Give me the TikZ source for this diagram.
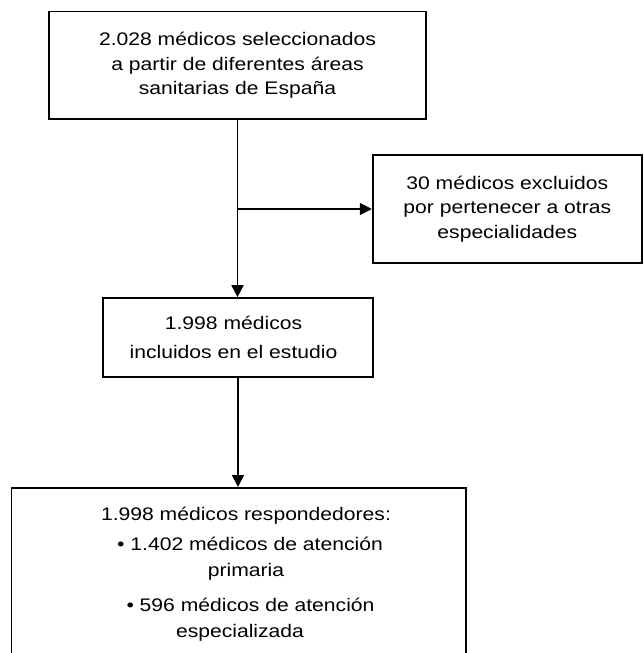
\documentclass[tikz,border=0pt]{standalone}
\usepackage{fontspec}
\usepackage{graphicx}
\setmainfont{Liberation Sans}
\usetikzlibrary{arrows.meta}
\newcommand{\wline}[1]{\scalebox{1.16}[1]{#1}}
\tikzset{
  txt/.style={font=\fontsize{18.2pt}{24.6pt}\selectfont},
  box/.style={draw, line width=1.7pt, align=center, inner sep=0pt, txt},
  conn/.style={line width=1.7pt, -{Triangle[length=12pt,width=12pt]}},
}
\begin{document}
\begin{tikzpicture}[x=1pt,y=-1pt]
\useasboundingbox (0,0) rectangle (643,653);
\node[box, minimum width=377pt, minimum height=107.5pt] (b1) at (237.5,65.25)
  {\wline{2.028 médicos seleccionados}\\\wline{a partir de diferentes áreas}\\\wline{sanitarias de España}};
\node[box, minimum width=269.3pt, minimum height=108pt] (b2) at (507.3,209)
  {\wline{30 médicos excluidos}\\\wline{por pertenecer a otras}\\\wline{especialidades}};
\node[box, minimum width=270pt, minimum height=79pt] (b3) at (238,337.5)
  {\wline{1.998 médicos}\hspace*{9pt}\\[4pt]\wline{incluidos en el estudio}\hspace*{9pt}};
\node[box, minimum width=454.5pt, minimum height=190pt, anchor=north] (b4) at (238.75,487) {};
\node[txt, align=center, inner sep=0pt, anchor=north,
      font=\fontsize{18.2pt}{26pt}\selectfont] (b4t) at (246,506.7)
  {\wline{1.998 médicos respondedores:}\\[3.7pt]
   \hspace*{8pt}\wline{• 1.402 médicos de atención}\\
   \wline{primaria}\hspace*{12pt}\\[9.7pt]
   \hspace*{9pt}\wline{• 596 médicos de atención}\\
   \wline{especializada}\hspace*{12pt}};
\coordinate (j) at (b1.south |- b2.west);
\draw[conn] (b1.south) -- (b1.south |- b3.north);
\draw[conn] (j) -- (b2.west);
\draw[conn] (b3.south) -- (b3.south |- b4.north);
\end{tikzpicture}
\end{document}
